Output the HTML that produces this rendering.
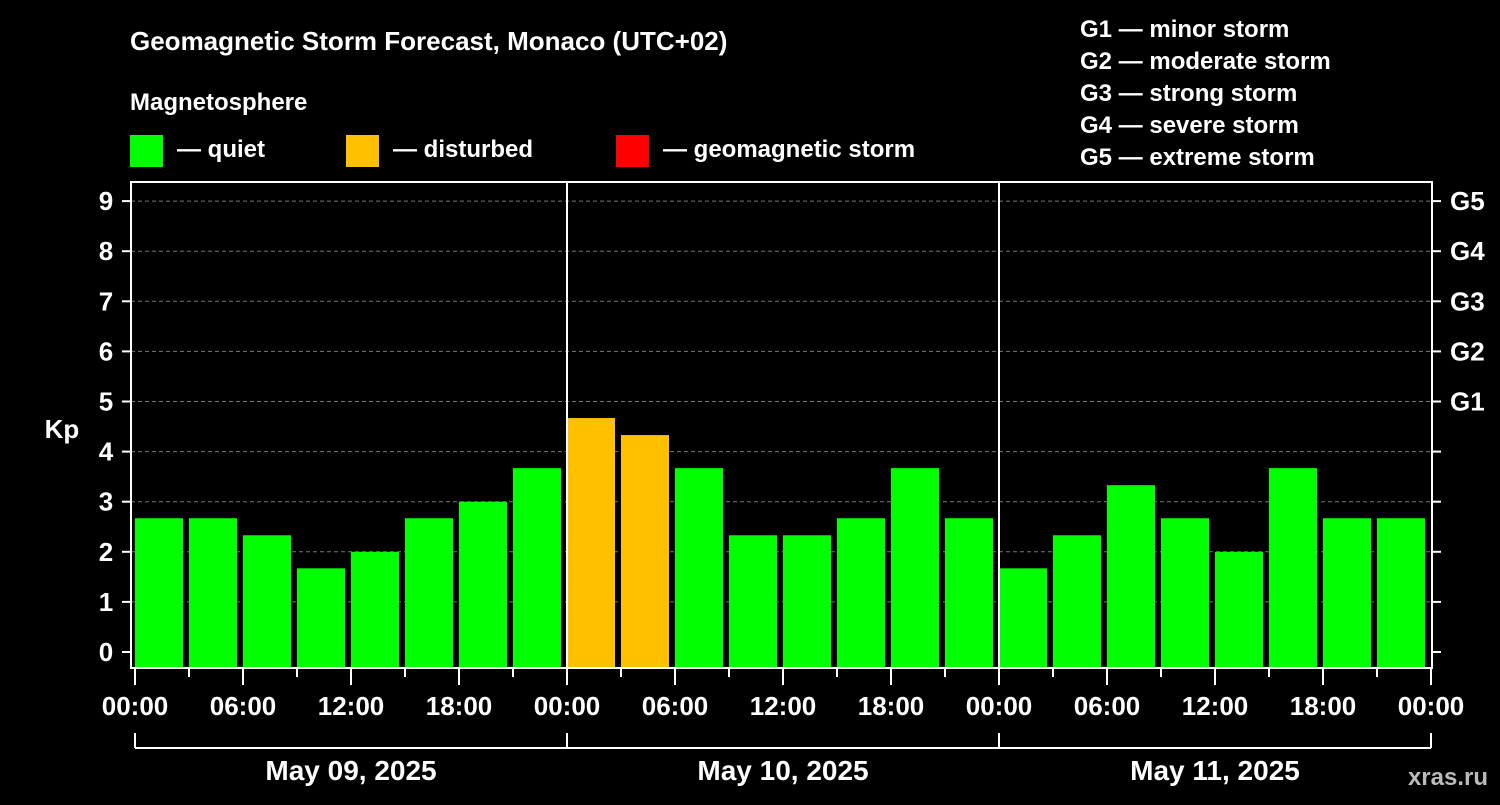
<!DOCTYPE html>
<html><head><meta charset="utf-8"><style>
body{margin:0;background:#000;width:1500px;height:800px;overflow:hidden;font-family:"Liberation Sans",sans-serif;}
svg text{font-family:"Liberation Sans",sans-serif;font-weight:bold;fill:#fff;}
</style></head><body>
<svg id="c" width="1500" height="800">
<text x="130" y="50" font-size="26">Geomagnetic Storm Forecast, Monaco (UTC+02)</text>
<text x="130" y="110" font-size="24">Magnetosphere</text>
<rect x="130" y="135" width="33" height="32" fill="#00ff00"/>
<text x="177" y="157" font-size="24">— quiet</text>
<rect x="346" y="135" width="33" height="32" fill="#ffc000"/>
<text x="393" y="157" font-size="24">— disturbed</text>
<rect x="616" y="135" width="33" height="32" fill="#ff0000"/>
<text x="663" y="157" font-size="24">— geomagnetic storm</text>
<g font-size="24">
<text x="1080" y="37">G1 — minor storm</text>
<text x="1080" y="69">G2 — moderate storm</text>
<text x="1080" y="101">G3 — strong storm</text>
<text x="1080" y="133">G4 — severe storm</text>
<text x="1080" y="165">G5 — extreme storm</text>
</g>
<text x="62" y="438" font-size="26" text-anchor="middle">Kp</text>
<text x="1488" y="785" font-size="24" text-anchor="end" fill="#bbb" style="fill:#bbb">xras.ru</text>
<defs><clipPath id="pc"><rect x="131" y="182" width="1301" height="486"/></clipPath></defs>
<g id="grid"></g><g id="bars" clip-path="url(#pc)"></g><g id="axes"></g>
</svg>
<script>
const kpValues=[2.67,2.67,2.33,1.67,2.0,2.67,3.0,3.67,4.67,4.33,3.67,2.33,2.33,2.67,3.67,2.67,1.67,2.33,3.33,2.67,2.0,3.67,2.67,2.67,2.67];
const yTicks=[0,1,2,3,4,5,6,7,8,9];
const gLabels=["G1","G2","G3","G4","G5"];
const hourLabels=["00:00","06:00","12:00","18:00","00:00","06:00","12:00","18:00","00:00","06:00","12:00","18:00","00:00"];
const dayLabels=["May 09, 2025","May 10, 2025","May 11, 2025"];
const NS="http://www.w3.org/2000/svg";
const X0=135,PXH=18,Y0=652,PY=50.1,L=131,R=1432,T=182,B=668;
const y=v=>Y0-v*PY, x=h=>X0+h*PXH;
function mk(p,t,a){const e=document.createElementNS(NS,t);for(const k in a)e.setAttribute(k,a[k]);p.appendChild(e);return e;}
const grid=document.getElementById('grid'),bars=document.getElementById('bars'),axes=document.getElementById('axes');
yTicks.forEach(v=>{if(v>0){const g=mk(grid,'line',{x1:L,x2:R,y1:y(v),y2:y(v),stroke:'#777','stroke-dasharray':'4,3','stroke-width':1});

}
const t=mk(axes,'line',{x1:L-9,x2:L,y1:y(v),y2:y(v),stroke:'#fff','stroke-width':2});


const t2=mk(axes,'line',{x1:R,x2:R+9,y1:y(v),y2:y(v),stroke:'#fff','stroke-width':2});


const l=mk(axes,'text',{x:106,y:y(v)+9,'font-size':26,'text-anchor':'middle'});l.textContent=v;


});
gLabels.forEach((g,i)=>{const l=mk(axes,'text',{x:1450,y:y(5+i)+9,'font-size':26});l.textContent=g;

});
kpValues.forEach((v,i)=>{const c=x(i*3+0.5);const col=v>=5?'#ff0000':(v>=4?'#ffc000':'#00ff00');
const r=mk(bars,'rect',{x:c-24+15,y:y(v),width:48,height:B-y(v),fill:col});

});
[24,48].forEach(h=>{const d=mk(axes,'line',{x1:x(h),x2:x(h),y1:T,y2:B,stroke:'#fff','stroke-width':2});

});
const f=mk(axes,'rect',{x:L,y:T,width:R-L,height:B-T,fill:'none',stroke:'#fff','stroke-width':2});


for(let h=0;h<=72;h+=3){const maj=h%6==0;const t=mk(axes,'line',{x1:x(h),x2:x(h),y1:B,y2:B+(maj?17:9),stroke:'#fff','stroke-width':2});

}
hourLabels.forEach((s,i)=>{const l=mk(axes,'text',{x:x(i*6),y:715,'font-size':26,'text-anchor':'middle'});l.textContent=s;

});
const br=mk(axes,'line',{x1:x(0),x2:x(72),y1:748,y2:748,stroke:'#fff','stroke-width':2});


[0,24,48,72].forEach(h=>{const t=mk(axes,'line',{x1:x(h),x2:x(h),y1:733,y2:748,stroke:'#fff','stroke-width':2});

});
dayLabels.forEach((s,i)=>{const l=mk(axes,'text',{x:x(i*24+12),y:780,'font-size':28,'text-anchor':'middle'});l.textContent=s;

});
</script>
</body></html>
